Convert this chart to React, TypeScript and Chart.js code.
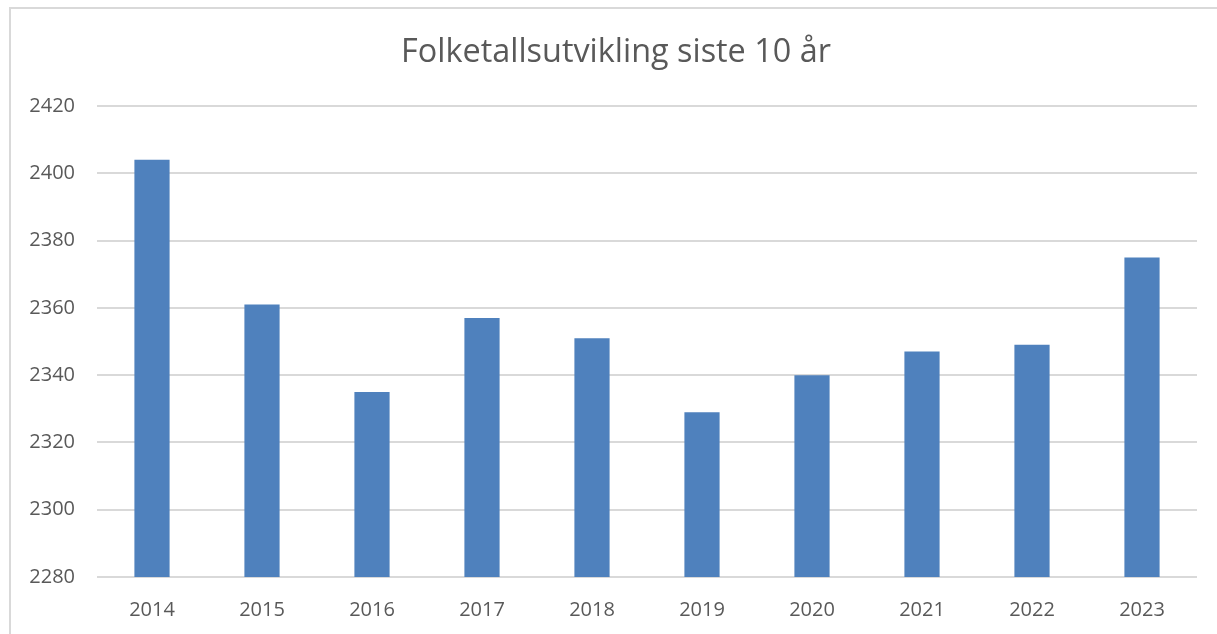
import React, { useEffect, useRef } from "react";
import { Chart, registerables } from "chart.js";

Chart.register(...registerables);

const years = ["2014", "2015", "2016", "2017", "2018", "2019", "2020", "2021", "2022", "2023"];
const population = [2404, 2361, 2335, 2357, 2351, 2329, 2340, 2347, 2349, 2375];
const yMin = 2280;
const yMax = 2420;
const yStep = 20;
const titleText = "Folketallsutvikling siste 10 år";

const titlePlugin = {
  id: "excelTitle",
  afterDraw(chart: any) {
    const ctx = chart.ctx;
    ctx.save();
    ctx.font = "32.4px 'Open Sans'";
    ctx.fillStyle = "#595959";
    ctx.textAlign = "center";
    ctx.textBaseline = "middle";
    ctx.fillText(titleText, 616, 53);
    ctx.restore();
  },
};

export default function App() {
  const ref = useRef<HTMLCanvasElement | null>(null);

  useEffect(() => {
    if (!ref.current) return;
    const chart = new Chart(ref.current, {
      type: "bar",
      data: {
        labels: years,
        datasets: [
          {
            data: population,
            backgroundColor: "#4f81bd",
            borderWidth: 0,
            categoryPercentage: 1,
            barPercentage: 0.32,
          },
        ],
      },
      plugins: [titlePlugin],
      options: {
        animation: false,
        responsive: false,
        layout: { padding: { left: 0, right: 20, top: 106, bottom: 0 } },
        plugins: {
          legend: { display: false },
          tooltip: { enabled: false },
          title: { display: false },
        },
        scales: {
          x: {
            grid: { display: false },
            border: { display: false },
            ticks: {
              color: "#595959",
              font: { family: "Open Sans", size: 20 },
              padding: 13,
            },
            afterFit: (s: any) => {
              s.height = 57;
            },
          },
          y: {
            min: yMin,
            max: yMax,
            grid: { color: "#d9d9d9", lineWidth: 2, drawTicks: false },
            border: { display: false },
            ticks: {
              stepSize: yStep,
              color: "#595959",
              font: { family: "Open Sans", size: 20 },
              padding: 22,
              callback: (v: any) => String(v),
            },
            afterFit: (s: any) => {
              s.width = 97;
            },
          },
        },
      },
    });
    return () => chart.destroy();
  }, []);

  return (
    <div style={{ position: "fixed", left: 0, top: 0, width: 1217, height: 634, background: "#fff", overflow: "hidden" }}>
      <canvas ref={ref} width={1217} height={634} style={{ display: "block" }} />
      <div
        style={{
          position: "absolute",
          left: 9,
          top: 7,
          width: 1400,
          height: 800,
          border: "2px solid #d9d9d9",
          pointerEvents: "none",
        }}
      />
    </div>
  );
}
